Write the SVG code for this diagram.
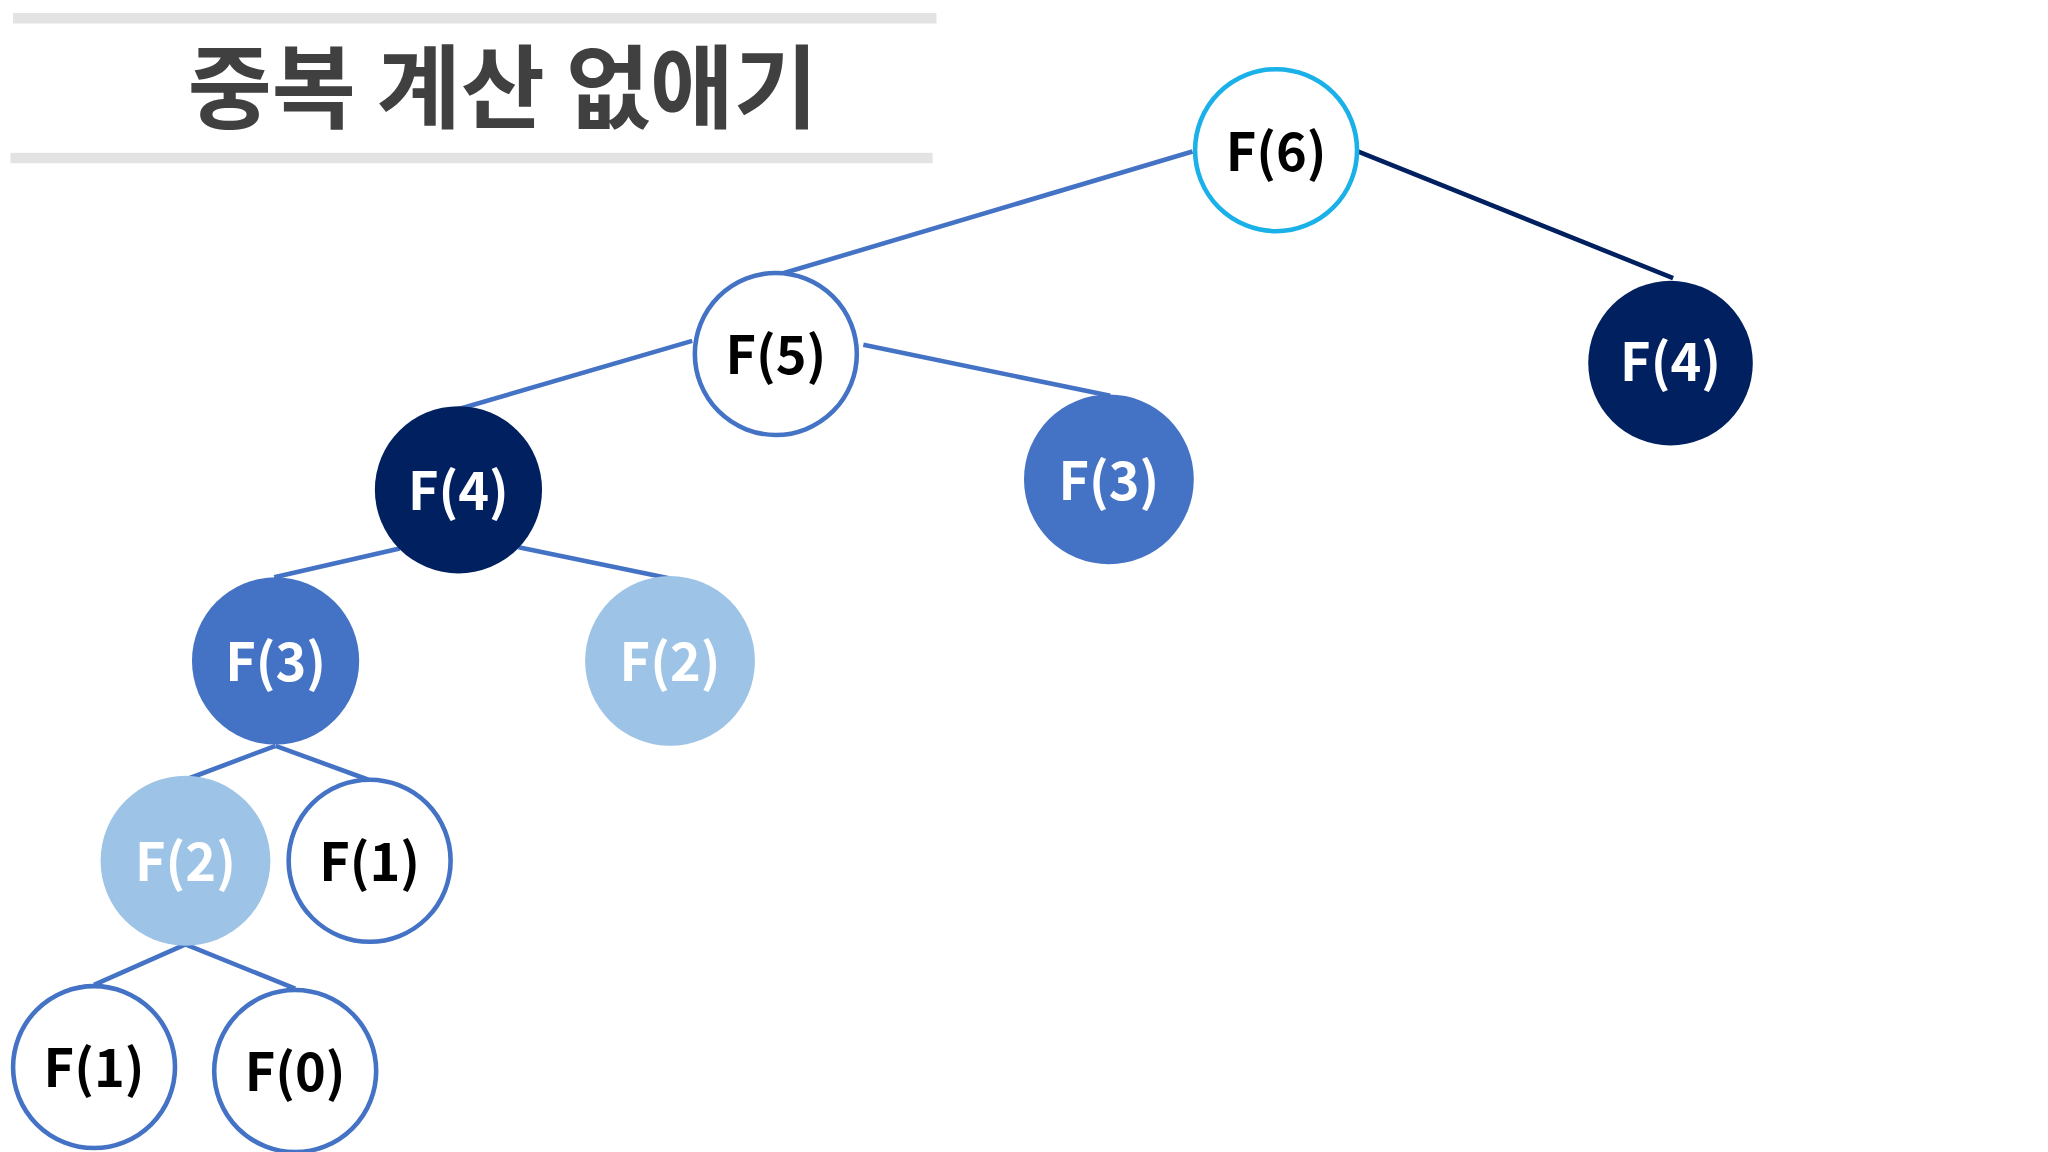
<svg xmlns="http://www.w3.org/2000/svg" width="2048" height="1152" viewBox="0 0 2048 1152">
<style>
.t{font-family:"Noto Sans CJK KR","Noto Sans",sans-serif;font-weight:700;font-size:40px;text-anchor:middle;dominant-baseline:central}
.w{fill:#fff}.k{fill:#000}
.e{stroke-width:3.5;fill:none}
</style>
<rect width="2048" height="1152" fill="#fff"/>
<g transform="scale(1.30612)">
<rect x="10" y="10" width="707" height="8" fill="#e3e3e3"/>
<rect x="8" y="117" width="706" height="8" fill="#e3e3e3"/>
<text x="385" y="62" style="font-family:'Noto Sans CJK KR',sans-serif;font-weight:700;font-size:70px;text-anchor:middle;dominant-baseline:central;fill:#404040">중복 계산 없애기</text>
<g id="edges">
<line class="e" stroke="#4472c4" x1="913" y1="116" x2="597" y2="210"/>
<line class="e" stroke="#002060" x1="1040" y1="116" x2="1281" y2="213"/>
<line class="e" stroke="#4472c4" x1="530" y1="261" x2="352" y2="313"/>
<line class="e" stroke="#4472c4" x1="661" y1="264" x2="850" y2="303"/>
<line class="e" stroke="#4472c4" x1="306" y1="420" x2="210" y2="442"/>
<line class="e" stroke="#4472c4" x1="397" y1="419" x2="513" y2="443"/>
<line class="e" stroke="#4472c4" x1="211" y1="571" x2="142" y2="597"/>
<line class="e" stroke="#4472c4" x1="211" y1="571" x2="282" y2="597"/>
<line class="e" stroke="#4472c4" x1="142" y1="723" x2="72" y2="754"/>
<line class="e" stroke="#4472c4" x1="142" y1="723" x2="226" y2="757"/>
</g>
<g id="n6"><circle cx="977" cy="115" r="62" fill="#fff" stroke="#1ab0e8" stroke-width="3.5"/><text class="t k" x="977" y="113">F(6)</text></g>
<g id="n5"><circle cx="594" cy="271" r="62" fill="#fff" stroke="#4472c4" stroke-width="3.5"/><text class="t k" x="594" y="269">F(5)</text></g>
<g id="n4r"><circle cx="1279" cy="278" r="63" fill="#002060"/><text class="t w" x="1279" y="274">F(4)</text></g>
<g id="n4l"><circle cx="351" cy="375" r="64" fill="#002060"/><text class="t w" x="351" y="373">F(4)</text></g>
<g id="n3r"><circle cx="849" cy="367" r="65" fill="#4472c4"/><text class="t w" x="849" y="365">F(3)</text></g>
<g id="n3l"><circle cx="211" cy="506" r="64" fill="#4472c4"/><text class="t w" x="211" y="504">F(3)</text></g>
<g id="n2m"><circle cx="513" cy="506" r="65" fill="#9dc3e6"/><text class="t w" x="513" y="504">F(2)</text></g>
<g id="n2l"><circle cx="142" cy="659" r="65" fill="#9dc3e6"/><text class="t w" x="142" y="657">F(2)</text></g>
<g id="n1"><circle cx="283" cy="659" r="62" fill="#fff" stroke="#4472c4" stroke-width="3.5"/><text class="t k" x="283" y="657">F(1)</text></g>
<g id="n1b"><circle cx="72" cy="817" r="62" fill="#fff" stroke="#4472c4" stroke-width="3.5"/><text class="t k" x="72" y="815">F(1)</text></g>
<g id="n0"><circle cx="226" cy="820" r="62" fill="#fff" stroke="#4472c4" stroke-width="3.5"/><text class="t k" x="226" y="818">F(0)</text></g>
</g>
</svg>
